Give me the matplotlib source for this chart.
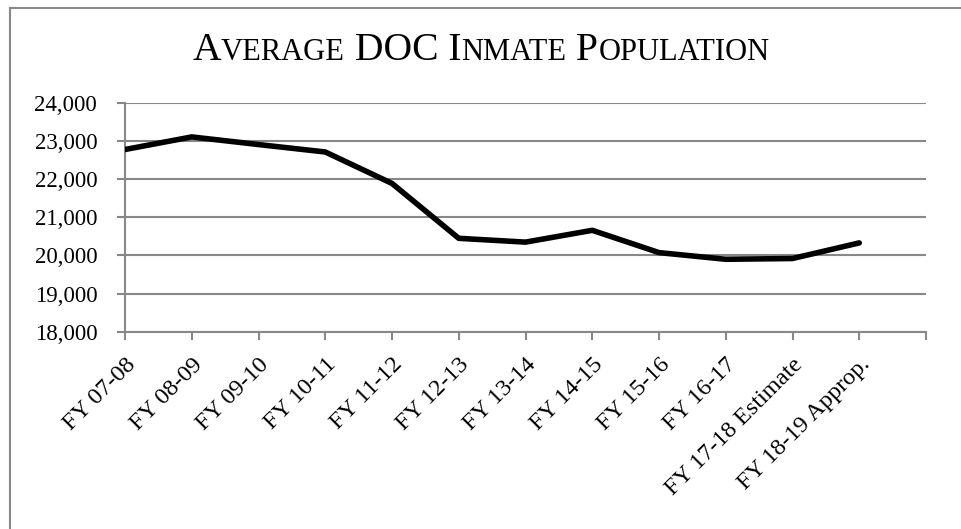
import matplotlib
matplotlib.use("Agg")
import matplotlib.pyplot as plt
from matplotlib.lines import Line2D

categories = ["FY 07-08", "FY 08-09", "FY 09-10", "FY 10-11", "FY 11-12", "FY 12-13",
              "FY 13-14", "FY 14-15", "FY 15-16", "FY 16-17", "FY 17-18 Estimate",
              "FY 18-19 Approp."]
population = [22780, 23110, 22910, 22715, 21890, 20450, 20350, 20660, 20075, 19900,
              19920, 20330]
yticks = [18000, 19000, 20000, 21000, 22000, 23000, 24000]
ytick_labels = ["18,000", "19,000", "20,000", "21,000", "22,000", "23,000", "24,000"]

W, H = 961, 529
fig = plt.figure(figsize=(W / 100, H / 100), dpi=100)
plt.rcParams['font.family'] = ['Liberation Serif', 'DejaVu Serif']

ax = fig.add_axes([125 / W, 1 - 331.7 / H, (926 - 125) / W, (331.7 - 103) / H])
grid_c = "#888888"
x = list(range(len(categories)))
ax.plot(x, population, color="black", lw=4.0, solid_capstyle="round",
        solid_joinstyle="round", zorder=3)
ax.set_xlim(0, len(categories))
ax.set_ylim(yticks[0], yticks[-1])
ax.set_yticks(yticks)
ax.set_yticklabels(ytick_labels)
ax.set_xticks(list(range(len(categories) + 1)))
ax.set_xticklabels(categories + [""], rotation=45, ha="right", va="top",
                   rotation_mode="anchor")
for sp in ["top", "right"]:
    ax.spines[sp].set_visible(False)
for sp in ["left", "bottom"]:
    ax.spines[sp].set_color(grid_c)
    ax.spines[sp].set_linewidth(1.5)
ax.yaxis.grid(True, color=grid_c, lw=1.5)
ax.set_axisbelow(True)
ax.tick_params(axis="both", colors=grid_c, labelcolor="black", labelsize=16.5,
               width=1.5, length=6, direction="out")
ax.tick_params(axis="x", pad=10, labelsize=17.5)
ax.tick_params(axis="y", pad=14)

# Figure border (cropped on right and bottom)
fig.add_artist(Line2D([9.5 / W, 1], [1 - 7.5 / H, 1 - 7.5 / H], color=grid_c, lw=1.5,
                      transform=fig.transFigure))
fig.add_artist(Line2D([9.5 / W, 9.5 / W], [0, 1 - 7.5 / H], color=grid_c, lw=1.5,
                      transform=fig.transFigure))

# Small-caps title
pieces = [("A", 28.5), ("VERAGE", 22), (" DOC I", 28.5), ("NMATE", 22), (" P", 28.5),
          ("OPULATION", 22)]
renderer = fig.canvas.get_renderer()
texts = []
for s, fs in pieces:
    t = fig.text(0, 1 - 60 / H, s, fontsize=fs, ha="left", va="baseline",
                 color="black")
    texts.append(t)
widths = [t.get_window_extent(renderer).width for t in texts]
total = sum(widths)
xpos = 481 - total / 2
for t, w in zip(texts, widths):
    t.set_x(xpos / W)
    xpos += w

fig.savefig("out.png", dpi=100)
